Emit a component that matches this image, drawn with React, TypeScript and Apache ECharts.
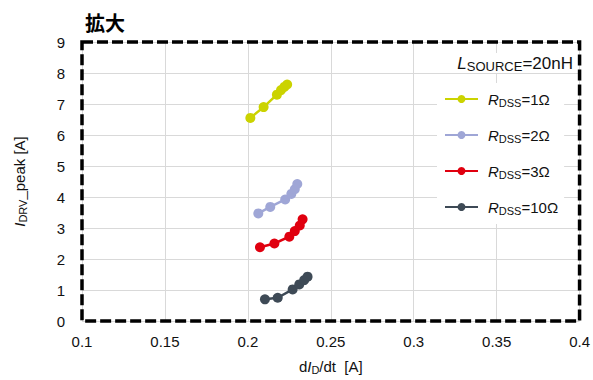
import React, { useEffect, useRef } from "react";
import * as echarts from "echarts";

// dI_D/dt [A] vs I_DRV_peak [A], one series per R_DSS
const seriesNames = ["RDSS=1Ω", "RDSS=2Ω", "RDSS=3Ω", "RDSS=10Ω"];
const seriesColors = ["#cbd300", "#9fa6d6", "#e0000f", "#3e4a56"];

const r1: [number, number][] = [
  [0.2015, 6.55], [0.2095, 6.9], [0.2175, 7.3], [0.22, 7.45], [0.222, 7.55], [0.2237, 7.63],
];
const r2: [number, number][] = [
  [0.2063, 3.47], [0.2135, 3.68], [0.2225, 3.92], [0.2262, 4.1], [0.2283, 4.25], [0.2298, 4.42],
];
const r3: [number, number][] = [
  [0.2073, 2.38], [0.216, 2.5], [0.225, 2.72], [0.2283, 2.9], [0.2313, 3.08], [0.233, 3.28],
];
const r10: [number, number][] = [
  [0.2103, 0.7], [0.218, 0.75], [0.227, 1.02], [0.231, 1.18], [0.234, 1.32], [0.236, 1.43],
];
const seriesData = [r1, r2, r3, r10];

const xMin = 0.1;
const xMax = 0.4;
const xStep = 0.05;
const yMin = 0;
const yMax = 9;
const yStep = 1;

const FONT = "'Liberation Sans', Arial, sans-serif";

export default function App() {
  const ref = useRef<HTMLDivElement>(null);

  useEffect(() => {
    document.body.style.margin = "0";
    if (!ref.current) return;
    const chart = echarts.init(ref.current, undefined, { renderer: "svg" });

    const subRich = {
      i: { fontFamily: FONT, fontSize: 15, fontStyle: "italic", color: "#111", lineHeight: 18, verticalAlign: "middle" },
      s: { fontFamily: FONT, fontSize: 11, color: "#111", lineHeight: 18, verticalAlign: "bottom", padding: [6, 0, 0, 0] },
      n: { fontFamily: FONT, fontSize: 15, color: "#111", lineHeight: 18, verticalAlign: "middle" },
    };

    chart.setOption({
      animation: false,
      backgroundColor: "#fff",
      textStyle: { fontFamily: FONT },
      grid: {
        left: 82,
        right: 12,
        top: 42,
        bottom: 56,
        show: true,
        borderColor: "#000",
        borderWidth: 3.5,
        borderType: [11, 4],
        z: 3,
      },
      graphic: [
        {
          type: "text",
          left: 85,
          top: 12,
          style: {
            text: "拡大",
            font: "bold 20px 'Noto Sans CJK JP', sans-serif",
            fill: "#000",
          },
        },
        {
          type: "text",
          right: 20,
          top: 53,
          z: 10,
          style: {
            text: "{i|L}{s|SOURCE}{n|=20nH}",
            backgroundColor: "#fff",
            rich: {
              i: { fontFamily: FONT, fontSize: 17, fontStyle: "italic", fill: "#111", lineHeight: 20, verticalAlign: "middle" },
              s: { fontFamily: FONT, fontSize: 13, fill: "#111", lineHeight: 20, verticalAlign: "bottom", padding: [7, 0, 0, 0] },
              n: { fontFamily: FONT, fontSize: 17, fill: "#111", lineHeight: 20, verticalAlign: "middle" },
            },
          },
        },
      ],
      legend: {
        orient: "vertical",
        left: 437,
        top: 83,
        padding: [8, 6, 8, 7],
        backgroundColor: "#fff",
        itemWidth: 33,
        itemHeight: 10,
        itemGap: 19,
        z: 5,
        data: seriesNames,
        formatter: (name: string) => {
          const rest = name.replace("RDSS", "");
          return `{i|R}{s|DSS}{n|${rest}}`;
        },
        textStyle: { rich: subRich, padding: [0, 0, 0, 5] },
      },
      xAxis: {
        type: "value",
        min: xMin,
        max: xMax,
        interval: xStep,
        name: "{n|d}{i|I}{s|D}{n|/dt  [A]}",
        nameLocation: "middle",
        nameGap: 36,
        nameTextStyle: { rich: subRich },
        axisLine: { show: false },
        axisTick: { show: false },
        axisLabel: {
          color: "#111",
          fontSize: 15,
          margin: 13,
          formatter: (v: number) => String(Math.round(v * 100) / 100),
        },
        splitLine: { show: true, lineStyle: { color: "#d9d9d9", width: 1 } },
      },
      yAxis: {
        type: "value",
        min: yMin,
        max: yMax,
        interval: yStep,
        name: "{i|I}{s|DRV}{n|_peak [A]}",
        nameLocation: "middle",
        nameGap: 54,
        nameRotate: 90,
        nameTextStyle: { rich: subRich },
        axisLine: { show: false },
        axisTick: { show: false },
        axisLabel: { color: "#111", fontSize: 15, margin: 17 },
        splitLine: { show: true, lineStyle: { color: "#d9d9d9", width: 1 } },
      },
      series: seriesNames.map((name, i) => ({
        name,
        type: "line",
        data: seriesData[i],
        symbol: "circle",
        symbolSize: 10,
        showSymbol: true,
        color: seriesColors[i],
        lineStyle: { width: 2.5, color: seriesColors[i] },
        itemStyle: { color: seriesColors[i] },
        z: 4,
      })),
    });

    return () => chart.dispose();
  }, []);

  return <div ref={ref} style={{ width: 593, height: 380 }} />;
}
